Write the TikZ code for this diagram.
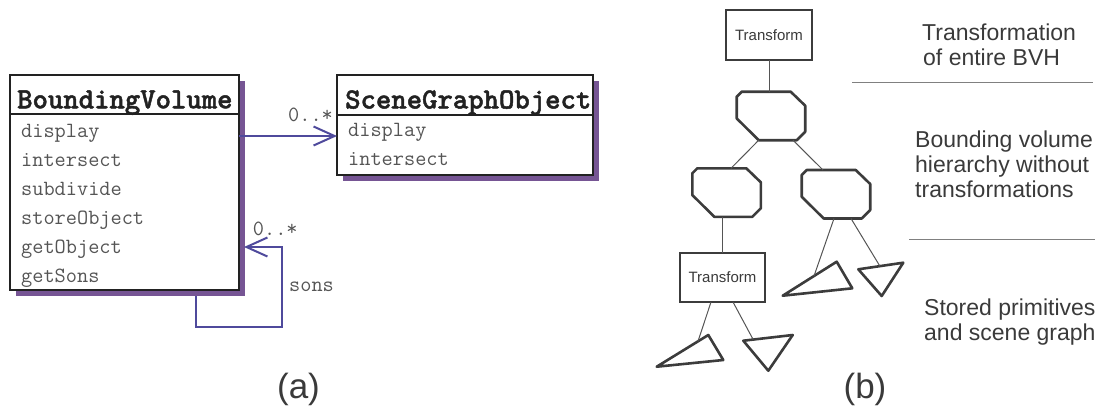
\documentclass[tikz,border=0pt]{standalone}
\usepackage{fontspec}
\setmainfont{Liberation Sans}
\newfontfamily\umltitlefont[FakeBold=1.6]{lmmonolt10-bold.otf}
\usetikzlibrary{arrows.meta,calc,shadows}
\definecolor{shadowc}{HTML}{765594}
\definecolor{linkc}{HTML}{4F4A9C}
\definecolor{boxc}{HTML}{222222}
\definecolor{itemc}{HTML}{555555}
\definecolor{txtc}{HTML}{3A3A3A}
\definecolor{shapec}{HTML}{3C3C3C}
\definecolor{thinc}{HTML}{555555}
\definecolor{sepc}{HTML}{808080}
\tikzset{
  umlbox/.style={draw=boxc, line width=2.5pt, fill=white, inner sep=0, outer sep=0,
    drop shadow={shadow xshift=6pt, shadow yshift=-6pt, fill=shadowc, opacity=1}},
  umlsep/.style={draw=boxc, line width=2pt},
  umltitle/.style={font=\umltitlefont\fontsize{29.3}{32}\selectfont, text=boxc, anchor=base west, inner sep=0},
  umlitem/.style={font=\ttfamily\fontsize{21.7}{24}\selectfont, text=itemc, anchor=base west, inner sep=0},
  link/.style={draw=linkc, line width=2pt, -{Straight Barb[length=21pt,width=19pt]}},
  tbox/.style={draw=shapec, line width=2pt, inner sep=0, outer sep=0,
    font=\fontsize{15}{18}\selectfont, text=txtc},
  shapeline/.style={draw=shapec, line width=2.6pt, line join=round},
  treeline/.style={draw=thinc, line width=1pt},
  sideline/.style={draw=sepc, line width=1pt},
  sidetext/.style={font=\fontsize{23}{25}\selectfont, text=txtc, anchor=base west, inner sep=0},
  caption/.style={font=\fontsize{35}{40}\selectfont, text=txtc, anchor=base, inner sep=0},
  octa/.pic={
    \draw[shapeline] (0,5) -- (5,0) -- (54,0) -- (68.5,14) -- (68.5,40) -- (60,48.5) -- (22,48.5) -- (0,26.7) -- cycle;
    \coordinate (-tl) at (0,0);
  }
}
\begin{document}
\begin{tikzpicture}[x=1pt, y=-1pt]
\useasboundingbox (0,0) rectangle (1101,408);

% ---------------- (a) UML ----------------
\node[umlbox, minimum width=229pt, minimum height=215pt] (bv) at (124.5,182.5) {};
\node[umlbox, minimum width=256pt, minimum height=100pt] (sgo) at (465,125) {};
\draw[umlsep] (bv.west |- 0,114) -- (bv.east |- 0,114);
\draw[umlsep] (sgo.west |- 0,115) -- (sgo.east |- 0,115);

\node[umltitle] (bvtitle) at (17,108.3) {BoundingVolume};
\node[umltitle] (sgotitle) at (345,108.5) {SceneGraphObject};

\node[umlitem] (bv1) at (21,137) {display};
\node[umlitem] (bv2) at (21,166) {intersect};
\node[umlitem] (bv3) at (21,195) {subdivide};
\node[umlitem] (bv4) at (21,224) {storeObject};
\node[umlitem] (bv5) at (21,253) {getObject};
\node[umlitem] (bv6) at (21,282) {getSons};

\node[umlitem] (sgo1) at (348,136.7) {display};
\node[umlitem] (sgo2) at (348,165) {intersect};

\draw[link] (bv.east |- 0,136) -- (sgo.west |- 0,136);
\node[umlitem] (m1) at (288,121.7) {0..*};

\draw[link] ($(bv.south west)+(186,6)$) -- ++(0,31) -| (282,247) -- ($(bv.east |- 0,247)+(5,0)$);
\node[umlitem] (m2) at (252.7,235) {0..*};
\node[umlitem] (sonslbl) at (289,291.7) {sons};

\node[caption] (capa) at (298.5,398) {(a)};

% ---------------- (b) tree ----------------
\node[tbox, minimum width=86pt, minimum height=50pt] (t1) at (769,35) {Transform};
\pic (o1) at (736.7,91.7) {octa};
\pic (o2) at (692.3,168.3) {octa};
\pic (o3) at (801.7,170) {octa};
\node[tbox, minimum width=85pt, minimum height=49pt] (t2) at (722.5,277.5) {Transform};

\coordinate (a1) at (782.7,295.7); \coordinate (a2) at (836.7,261.7); \coordinate (a3) at (852.3,288.3);
\coordinate (b1) at (858.3,269.3); \coordinate (b2) at (903.3,262.7); \coordinate (b3) at (881.7,296);
\coordinate (c1) at (656.7,366.7); \coordinate (c2) at (708.3,335); \coordinate (c3) at (723.3,360);
\coordinate (d1) at (743.3,340.7); \coordinate (d2) at (792.7,335); \coordinate (d3) at (768.3,370.7);
\draw[shapeline] (a1) -- (a2) -- (a3) -- cycle;
\draw[shapeline] (b1) -- (b2) -- (b3) -- cycle;
\draw[shapeline] (c1) -- (c2) -- (c3) -- cycle;
\draw[shapeline] (d1) -- (d2) -- (d3) -- cycle;

\draw[treeline] (t1.south) -- (t1.south |- o1-tl);
\draw[treeline] ($(o1-tl)+(22,48.5)$) -- ($(o2-tl)+(38.7,0)$);
\draw[treeline] ($(o1-tl)+(56.3,48.5)$) -- ($(o3-tl)+(21.3,0)$);
\draw[treeline] (t2.north |- {$(o2-tl)+(0,48.5)$}) -- (t2.north);
\draw[treeline] ($(o3-tl)+(32.3,48.5)$) -- ($(a1)!0.58!(a2)$);
\draw[treeline] ($(o3-tl)+(49.3,48.5)$) -- ($(b1)!0.48!(b2)$);
\draw[treeline] ($(t2.south)+(-11.5,0)$) -- ($(c1)!0.8!(c2)$);
\draw[treeline] ($(t2.south)+(10.5,0)$) -- ($(d1)!0.2!(d2)$);

\node[caption] (capb) at (865,398) {(b)};

% ---------------- side texts ----------------
\node[sidetext] (s1a) at (922,40) {Transformation};
\node[sidetext] (s1b) at (923,65) {of entire BVH};
\draw[sideline] (852,82) -- (1093,82);
\node[sidetext] (s2a) at (915,147) {Bounding volume};
\node[sidetext] (s2b) at (915,172) {hierarchy without};
\node[sidetext] (s2c) at (915,197) {transformations};
\draw[sideline] (909,239) -- (1095,239);
\node[sidetext] (s3a) at (924,315) {Stored primitives};
\node[sidetext] (s3b) at (924,340) {and scene graph};
\end{tikzpicture}
\end{document}
